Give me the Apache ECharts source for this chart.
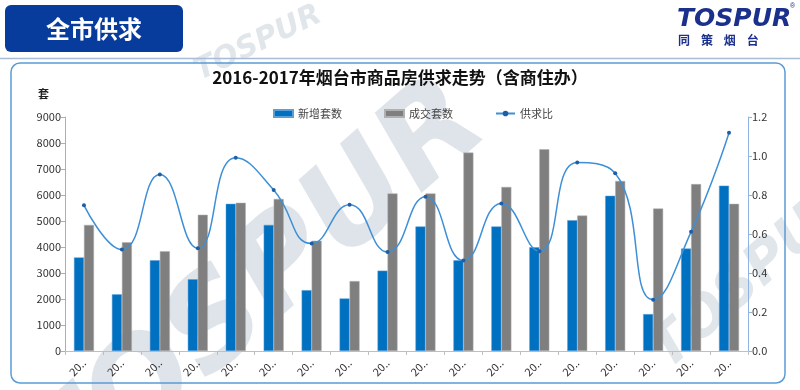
<!DOCTYPE html>
<html>
<head>
<meta charset="utf-8">
<script src="https://cdn.jsdelivr.net/npm/echarts@6/dist/echarts.min.js"></script>
<style>
html,body{margin:0;padding:0;background:#fff;}
#chart{width:800px;height:390px;}
</style>
</head>
<body>
<div id="chart"></div>
<script>
var categories = ['2016-07','2016-08','2016-09','2016-10','2016-11','2016-12','2017-01','2017-02','2017-03','2017-04','2017-05','2017-06','2017-07','2017-08','2017-09','2017-10','2017-11','2017-12'];
var newSupply = [3600,2180,3490,2760,5660,4850,2340,2020,3090,4790,3490,4790,3990,5030,5970,1420,3940,6360];
var sold = [4850,4180,3840,5240,5700,5850,4240,2690,6060,6060,7630,6310,7760,5210,6540,5480,6420,5660];
var ratio = [0.747,0.520,0.905,0.527,0.991,0.826,0.551,0.750,0.508,0.791,0.464,0.757,0.512,0.967,0.912,0.263,0.611,1.119];
var leftTicks = [0,1000,2000,3000,4000,5000,6000,7000,8000,9000];
var rightTicks = [0,0.2,0.4,0.6,0.8,1.0,1.2];

var FONT = '"Noto Sans CJK SC", "Noto Sans", sans-serif';
var chart = echarts.init(document.getElementById('chart'), null, {renderer:'canvas'});
var option = {
  backgroundColor: '#ffffff',
  animation: false,
  textStyle: {fontFamily: FONT},
  graphic: [
    // watermark
    {type:'text', left: 0, top: 60, rotation: 0.72, z: 0, zlevel: 0, silent: true,
     style:{text:'TOSPUR', fontSize: 125, fontWeight: 'bold', fontStyle:'italic', fontFamily:'"DejaVu Sans", sans-serif', fill:'rgba(196,206,216,0.55)'}},
    {type:'text', left: 640, top: 170, rotation: 0.72, z: 0, silent: true,
     style:{text:'TOSPUR', fontSize: 56, fontWeight: 'bold', fontStyle:'italic', fontFamily:'"DejaVu Sans", sans-serif', fill:'rgba(196,206,216,0.5)'}},
    {type:'text', left: 190, top: 0, rotation: 0.45, z: 0, silent: true,
     style:{text:'TOSPUR', fontSize: 30, fontWeight: 'bold', fontStyle:'italic', fontFamily:'"DejaVu Sans", sans-serif', fill:'rgba(196,206,216,0.5)'}},
    // header
    {type:'rect', shape:{x:5, y:5, width:178, height:47, r:6}, style:{fill:'#083c9c'}, z: 10},
    {type:'text', x: 94, y: 29, z: 11, style:{text:'全市供求', fontSize: 24, fontWeight:'bold', fill:'#ffffff', fontFamily: FONT, align:'center', verticalAlign:'middle'}},
    {type:'line', shape:{x1:0, y1:58.5, x2:800, y2:58.5}, style:{stroke:'#a9bcd6', lineWidth:1.5}, z: 10},
    // logo
    {type:'text', x: 677, y: 7, z: 11, style:{text:'TOSPUR', fontSize: 25, fontWeight:'900', fontStyle:'italic', fill:'#1b2f8c', fontFamily:'"DejaVu Sans", sans-serif'}},
    {type:'text', x: 790, y: 3, z: 11, style:{text:'®', fontSize: 7, fill:'#1b2f8c'}},
    {type:'text', x: 678, y: 34, z: 11, style:{text:'同    策    烟    台', fontSize: 12, fontWeight:'bold', fill:'#1b2f8c', fontFamily: FONT}},
    // panel
    {type:'rect', shape:{x:11, y:63, width:774, height:320, r:9}, style:{fill:'none', stroke:'#5b9bd5', lineWidth:1.5}, z: 10},
    // unit
    {type:'text', x: 38, y: 88, z: 11, style:{text:'套', fontSize: 11, fontWeight:'bold', fill:'#222', fontFamily: FONT}}
  ],
  title: {
    text: '2016-2017年烟台市商品房供求走势（含商住办）',
    left: 'center', top: 64,
    textStyle: {fontSize: 17, fontWeight: 'bold', color: '#111', fontFamily: FONT}
  },
  legend: {
    top: 103, left: 268, itemGap: 42, itemWidth: 19, itemHeight: 7,
    textStyle: {fontSize: 11, color: '#444', fontFamily: FONT},
    data: [
      {name:'新增套数', icon:'rect'},
      {name:'成交套数', icon:'rect'},
      {name:'供求比'}
    ]
  },
  grid: {left: 65, right: 52, top: 117, bottom: 39, containLabel: false},
  xAxis: {
    type: 'category', data: categories,
    axisLine: {lineStyle: {color: '#bfbfbf'}},
    axisTick: {show: true, alignWithLabel: false, length: 4, lineStyle:{color:'#bfbfbf'}},
    axisLabel: {rotate: 45, fontSize: 11, color: '#333', margin: 10, width: 23, overflow: 'truncate', ellipsis: '..', interval: 0}
  },
  yAxis: [
    {type: 'value', min: 0, max: 9000, interval: 1000,
     axisLine: {show: true, lineStyle: {color: '#8fb4e3'}},
     axisTick: {show: true, length: 4, lineStyle:{color:'#8fb4e3'}},
     splitLine: {show: false},
     axisLabel: {fontSize: 11, color: '#333', margin: 4,
       formatter: function(v){ return leftTicks.indexOf(v) >= 0 ? String(v) : ''; }}},
    {type: 'value', min: 0, max: 1.2, interval: 0.2, position: 'right',
     axisLine: {show: true, lineStyle: {color: '#8fb4e3'}},
     axisTick: {show: true, length: 4, lineStyle:{color:'#8fb4e3'}},
     splitLine: {show: false},
     axisLabel: {fontSize: 11, color: '#333', margin: 4,
       formatter: function(v){ return v.toFixed(1); }}}
  ],
  series: [
    {name: '新增套数', type: 'bar', data: newSupply, barWidth: 10, barGap: '0%', z: 3,
     itemStyle: {color: '#0070c0', borderColor: '#5a9fd8', borderWidth: 0.5}},
    {name: '成交套数', type: 'bar', data: sold, barWidth: 10, z: 3,
     itemStyle: {color: '#7f7f7f', borderColor: '#b0b0b0', borderWidth: 0.5}},
    {name: '供求比', type: 'line', yAxisIndex: 1, data: ratio, smooth: true, z: 5,
     symbol: 'circle', symbolSize: 4, showSymbol: true,
     lineStyle: {color: '#3d8fd6', width: 1.5},
     itemStyle: {color: '#1d5ea8'}}
  ]
};
chart.setOption(option);
</script>
</body>
</html>
